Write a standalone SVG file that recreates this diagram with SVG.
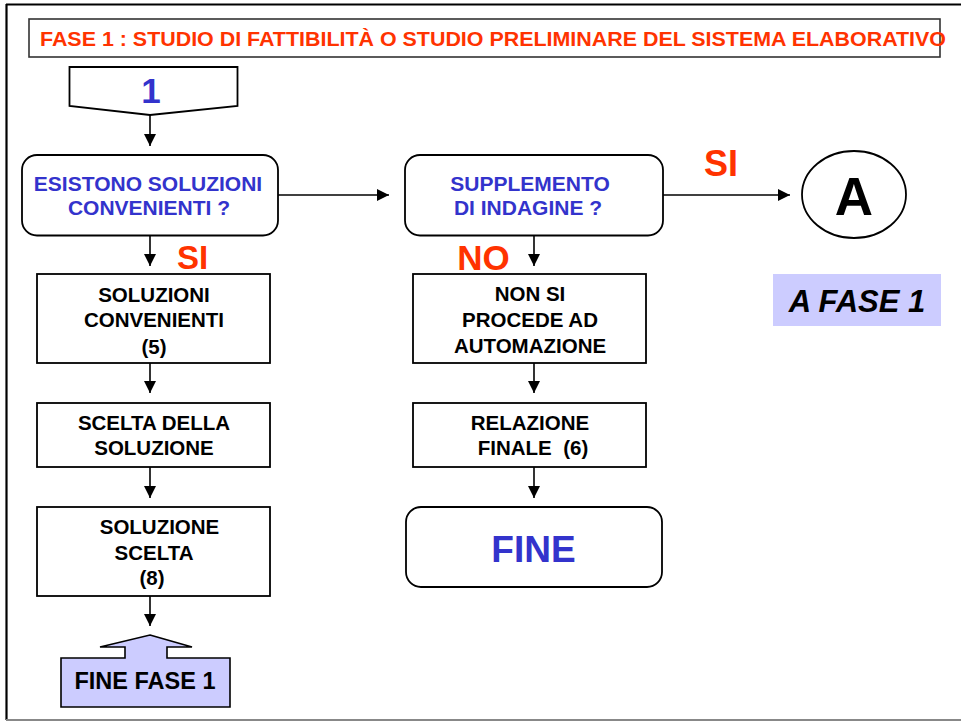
<svg xmlns="http://www.w3.org/2000/svg" width="961" height="721" viewBox="0 0 961 721">
<defs>
<marker id="ah" viewBox="0 0 12 12" refX="12" refY="6" markerWidth="12" markerHeight="12" markerUnits="userSpaceOnUse" orient="auto">
<path d="M0,0 L12,6 L0,12 z" fill="#000"/>
</marker>
<style>
.box{fill:#fff;stroke:#000;stroke-width:1.8}
.t{font-family:"Liberation Sans",Arial,sans-serif;font-weight:bold;text-anchor:middle}
.blk{fill:#000;font-size:20.5px}
.blu{fill:#3333CC;font-size:21px}
.red{fill:#FF3300}
.conn line{stroke:#000;stroke-width:1.6;marker-end:url(#ah)}
</style>
</defs>
<rect width="961" height="721" fill="#fff"/>
<g id="frame">
<line x1="6" y1="4.5" x2="961" y2="4.5" stroke="#000" stroke-width="2.2"/>
<line x1="6.5" y1="4" x2="6.5" y2="720" stroke="#000" stroke-width="2.2"/>
<line x1="6" y1="720" x2="961" y2="720" stroke="#888" stroke-width="2"/>
</g>
<g id="title">
<rect x="29" y="19" width="911" height="38" fill="#fff" stroke="#333" stroke-width="1.6"/>
<text class="t red" x="493" y="45.5" font-size="21" textLength="906" lengthAdjust="spacingAndGlyphs">FASE 1 : STUDIO DI FATTIBILITÀ O STUDIO PRELIMINARE DEL SISTEMA ELABORATIVO</text>
</g>
<g id="n1">
<polygon class="box" points="69.5,67 237.5,67 237.5,106 150,115 69.5,106"/>
<text class="t" x="151" y="102.5" font-size="35" fill="#3333CC">1</text>
</g>
<g id="esistono">
<rect class="box" x="22" y="155" width="256" height="80.5" rx="15"/>
<text class="t blu" x="148" y="190.5">ESISTONO SOLUZIONI</text>
<text class="t blu" x="149" y="215">CONVENIENTI ?</text>
</g>
<g id="supplemento">
<rect class="box" x="405" y="155" width="258" height="80.5" rx="15"/>
<text class="t blu" x="530" y="190.5">SUPPLEMENTO</text>
<text class="t blu" x="528" y="215">DI INDAGINE ?</text>
</g>
<g id="a">
<ellipse cx="854" cy="194.5" rx="52" ry="43.5" fill="#fff" stroke="#000" stroke-width="1.8"/>
<text class="t" x="854" y="215" font-size="53" fill="#000">A</text>
</g>
<g id="afase1">
<rect x="773" y="274" width="168" height="52" fill="#CCCCFF"/>
<text class="t" x="857" y="312" font-size="31" font-style="italic" fill="#000">A FASE 1</text>
</g>
<g id="soluzioni">
<rect class="box" x="37" y="274" width="233" height="89"/>
<text class="t blk" x="154" y="301.5">SOLUZIONI</text>
<text class="t blk" x="154" y="327">CONVENIENTI</text>
<text class="t blk" x="154" y="354">(5)</text>
</g>
<g id="scelta">
<rect class="box" x="37" y="403" width="233" height="64"/>
<text class="t blk" x="154" y="429.5">SCELTA DELLA</text>
<text class="t blk" x="154" y="455">SOLUZIONE</text>
</g>
<g id="scelta2">
<rect class="box" x="37" y="507" width="233" height="89"/>
<text class="t blk" x="159.5" y="534">SOLUZIONE</text>
<text class="t blk" x="154" y="560">SCELTA</text>
<text class="t blk" x="152" y="584.5">(8)</text>
</g>
<g id="finefase1">
<polygon points="150,635 192,647 167,647 167,658 230,658 230,707 61,707 61,658 125,658 125,647 100,647" fill="#CCCCFF" stroke="#000" stroke-width="1.6"/>
<text class="t" x="145" y="689" font-size="23.5" fill="#000">FINE FASE 1</text>
</g>
<g id="nonsi">
<rect class="box" x="413" y="274" width="233" height="89"/>
<text class="t blk" x="530" y="301">NON SI</text>
<text class="t blk" x="530" y="327">PROCEDE AD</text>
<text class="t blk" x="530" y="353">AUTOMAZIONE</text>
</g>
<g id="relazione">
<rect class="box" x="413" y="403" width="233" height="64"/>
<text class="t blk" x="530" y="429.5">RELAZIONE</text>
<text class="t blk" x="533" y="455" xml:space="preserve">FINALE  (6)</text>
</g>
<g id="fine">
<rect class="box" x="406" y="507" width="256" height="80" rx="15"/>
<text class="t" x="533.5" y="562" font-size="37" fill="#3333CC">FINE</text>
</g>
<g id="labels">
<text class="t red" x="721" y="176" font-size="36">SI</text>
<text class="t red" x="192.5" y="269" font-size="33">SI</text>
<text class="t red" x="483.5" y="270" font-size="35">NO</text>
</g>
<g class="conn" id="connectors">
<line x1="150" y1="115" x2="150" y2="146"/>
<line x1="278" y1="195" x2="389" y2="195"/>
<line x1="663" y1="195" x2="790" y2="195"/>
<line x1="150" y1="235.5" x2="150" y2="266"/>
<line x1="150" y1="363" x2="150" y2="393"/>
<line x1="150" y1="467" x2="150" y2="498"/>
<line x1="150" y1="596" x2="150" y2="626"/>
<line x1="534" y1="235.5" x2="534" y2="266"/>
<line x1="534" y1="363" x2="534" y2="393"/>
<line x1="534" y1="467" x2="534" y2="498"/>
</g>
</svg>
